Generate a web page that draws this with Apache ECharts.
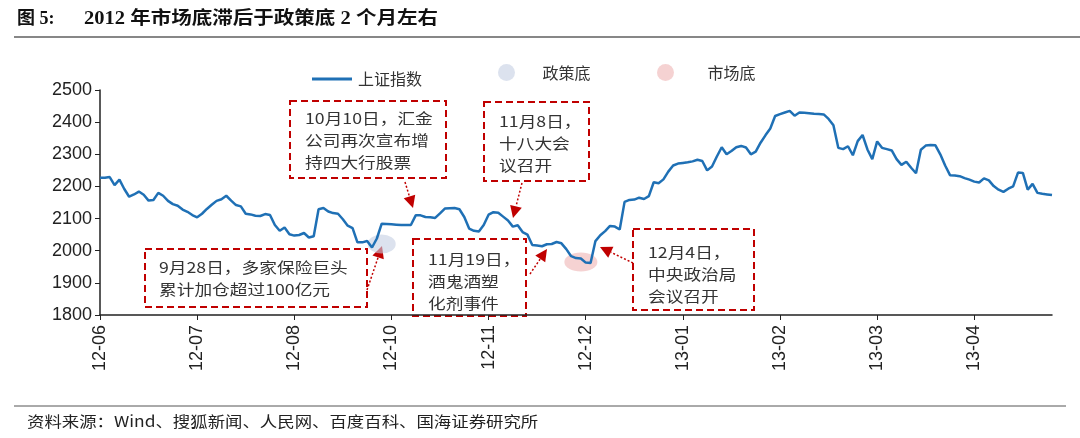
<!DOCTYPE html>
<html>
<head>
<meta charset="utf-8">
<script src="https://cdn.jsdelivr.net/npm/echarts@6/dist/echarts.min.js"></script>
<style>
  html, body { margin: 0; padding: 0; background: #fff; }
  #chart { width: 1080px; height: 438px; }
</style>
</head>
<body>
<div id="chart"></div>
<script>
"use strict";

// x-axis month labels, one every tickStep trading days
const tickLabels = ['12-06', '12-07', '12-08', '12-10', '12-11', '12-12', '13-01', '13-02', '13-03', '13-04'];
const tickStep = 20;

// 上证指数, daily close
const shIndex = [
  2227, 2227, 2229, 2204, 2221, 2192, 2168, 2175, 2184, 2174,
  2156, 2158, 2180, 2171, 2155, 2145, 2140, 2128, 2121, 2111,
  2104, 2115, 2130, 2143, 2155, 2160, 2171, 2156, 2142, 2138,
  2115, 2113, 2109, 2108, 2114, 2111, 2080, 2062, 2072, 2051,
  2047, 2049, 2055, 2041, 2045, 2129, 2133, 2122, 2117, 2115,
  2098, 2078, 2070, 2026, 2026, 2030, 2010, 2038, 2084, 2083,
  2082, 2081, 2080, 2080, 2080, 2110, 2110, 2105, 2104, 2102,
  2116, 2131, 2132, 2133, 2129, 2105, 2069, 2062, 2060, 2080,
  2112, 2120, 2118, 2106, 2094, 2075, 2079, 2058, 2050, 2018,
  2016, 2014, 2020, 2021, 2027, 2023, 2005, 1983, 1977, 1976,
  1963, 1962, 2030, 2048, 2061, 2077, 2075, 2066, 2152, 2158,
  2159, 2165, 2161, 2170, 2213, 2210, 2222, 2246, 2265, 2271,
  2273, 2275, 2278, 2283, 2279, 2250, 2262, 2293, 2322, 2300,
  2310, 2322, 2326, 2321, 2300, 2308, 2336, 2359, 2380, 2419,
  2425, 2430, 2435, 2420, 2430, 2429, 2428, 2426, 2425, 2424,
  2410, 2390, 2320, 2316, 2325, 2297, 2341, 2360, 2315, 2285,
  2340, 2320, 2316, 2312, 2285, 2267, 2277, 2258, 2241, 2314,
  2327, 2329, 2328, 2300, 2265, 2235, 2234, 2232, 2226, 2221,
  2215, 2212, 2225, 2219, 2201, 2190, 2183, 2193, 2200, 2243,
  2242, 2190, 2208, 2180, 2177, 2175, 2173
];

// bottoms marked by ellipses: [day index, level]
const policyBottom = [58, 2021];
const marketBottom = [99, 1965];

// annotation texts
const noteTexts = [
  ['10月10日，汇金', '公司再次宣布增', '持四大行股票'],
  ['11月8日，', '十八大会', '议召开'],
  ['9月28日，多家保险巨头', '累计加仓超过100亿元'],
  ['11月19日，', '酒鬼酒塑', '化剂事件'],
  ['12月4日，', '中央政治局', '会议召开']
];

// annotation layout in pixels: box [x, y, w, h], text origin, arrow start, arrow tip
const noteLayout = [
  { box: [290, 101, 156, 77], text: [305, 107], from: [405, 182], to: [413, 208] },
  { box: [484, 102, 105, 79], text: [499, 110], from: [522, 183], to: [513, 218] },
  { box: [145, 249, 222, 58], text: [159, 256], from: [367, 290], to: [382, 246] },
  { box: [413, 239, 113, 77], text: [428, 248], from: [530, 274], to: [547, 249] },
  { box: [633, 229, 121, 81], text: [648, 241], from: [633, 263], to: [600, 247] }
];

const categories = shIndex.map((v, i) => (i % tickStep === 0 ? tickLabels[i / tickStep] : ''));

const ellipse = 'path://M0 50A50 50 0 1 1 100 50A50 50 0 1 1 0 50Z';
const red = '#c00000';
const cjk = '"Noto Sans CJK SC"';

function arrow(from, to) {
  let dx = to[0] - from[0], dy = to[1] - from[1];
  let len = Math.sqrt(dx * dx + dy * dy);
  let ux = dx / len, uy = dy / len;
  let head = 12, half = 6;
  let bx = to[0] - ux * head, by = to[1] - uy * head;
  return [
    {
      type: 'line',
      shape: { x1: from[0], y1: from[1], x2: bx, y2: by },
      style: { stroke: red, lineWidth: 1.5, lineDash: [2, 2] }
    },
    {
      type: 'polygon',
      shape: { points: [to, [bx - uy * half, by + ux * half], [bx + uy * half, by - ux * half]] },
      style: { fill: red }
    }
  ];
}

let elements = [
  {
    type: 'text', x: 17, y: 19,
    style: { text: '图 5:', font: 'bold 18px "Liberation Serif", ' + cjk, fill: '#111', verticalAlign: 'middle' }
  },
  {
    type: 'text', x: 84, y: 19, scaleX: 1.14,
    style: { text: '2012 年市场底滞后于政策底 2 个月左右', font: 'bold 18px "Liberation Serif", ' + cjk, fill: '#111', verticalAlign: 'middle' }
  },
  {
    type: 'line', shape: { x1: 14, y1: 37, x2: 1080, y2: 37 },
    style: { stroke: '#111', lineWidth: 1.2 }
  },
  {
    type: 'line', shape: { x1: 14, y1: 406, x2: 1066, y2: 406 },
    style: { stroke: '#555', lineWidth: 1 }
  },
  {
    type: 'text', x: 27, y: 421, scaleX: 1.16,
    style: { text: '资料来源：Wind、搜狐新闻、人民网、百度百科、国海证券研究所', font: '15px ' + cjk, fill: '#222', verticalAlign: 'middle' }
  }
];

noteLayout.forEach((n, k) => {
  elements.push({
    type: 'rect',
    shape: { x: n.box[0], y: n.box[1], width: n.box[2], height: n.box[3] },
    style: { fill: 'none', stroke: red, lineWidth: 2, lineDash: [7, 4] }
  });
  elements.push({
    type: 'text', x: n.text[0], y: n.text[1], scaleX: 1.18,
    style: { text: noteTexts[k].join('\n'), font: '15px ' + cjk, fill: '#333', lineHeight: 22, verticalAlign: 'top' }
  });
  elements = elements.concat(arrow(n.from, n.to));
});

const chart = echarts.init(document.getElementById('chart'));

chart.setOption({
  animation: false,
  grid: { left: 100, right: 28, top: 90, bottom: 123, outerBoundsMode: 'none' },
  legend: [
    {
      data: [{ name: '上证指数', icon: 'rect' }], left: 312, top: 71, padding: 0,
      itemWidth: 40, itemHeight: 3,
      textStyle: { fontSize: 16, color: '#333', fontFamily: cjk, padding: [0, 0, 0, 1] }
    },
    {
      data: ['政策底'], left: 498, top: 64, padding: 0,
      itemWidth: 28, itemHeight: 17, icon: ellipse,
      textStyle: { fontSize: 16, color: '#333', fontFamily: cjk, padding: [0, 0, 0, 17] }
    },
    {
      data: ['市场底'], left: 657, top: 64, padding: 0,
      itemWidth: 28, itemHeight: 17, icon: ellipse,
      textStyle: { fontSize: 16, color: '#333', fontFamily: cjk, padding: [0, 0, 0, 23] }
    }
  ],
  xAxis: {
    type: 'category',
    data: categories,
    boundaryGap: false,
    axisLine: { lineStyle: { color: '#222', width: 1.5 } },
    axisTick: { show: true, length: 5, interval: tickStep - 1, lineStyle: { color: '#222' } },
    axisLabel: {
      interval: tickStep - 1, rotate: 90, margin: 10,
      fontSize: 18, color: '#222', fontFamily: 'Liberation Sans'
    },
    splitLine: { show: false }
  },
  yAxis: {
    type: 'value',
    min: 1800, max: 2500, interval: 100,
    axisLine: { show: true, lineStyle: { color: '#222', width: 1.5 } },
    axisTick: { show: true, length: 5, lineStyle: { color: '#222' } },
    axisLabel: {
      fontSize: 18, color: '#222', fontFamily: 'Liberation Sans', margin: 8,
      formatter: v => String(v)
    },
    splitLine: { show: false }
  },
  series: [
    {
      name: '政策底', type: 'scatter', z: 1,
      data: [policyBottom],
      symbol: ellipse, symbolSize: [28, 19],
      itemStyle: { color: 'rgba(196,206,226,0.75)' }
    },
    {
      name: '市场底', type: 'scatter', z: 1,
      data: [marketBottom],
      symbol: ellipse, symbolSize: [33, 19],
      itemStyle: { color: 'rgba(240,184,184,0.8)' }
    },
    {
      name: '上证指数', type: 'line', z: 3,
      data: shIndex,
      symbol: 'none',
      lineStyle: { color: '#1f70b5', width: 2.5 },
      itemStyle: { color: '#1f70b5' }
    }
  ],
  graphic: { elements: elements }
});
</script>
</body>
</html>
